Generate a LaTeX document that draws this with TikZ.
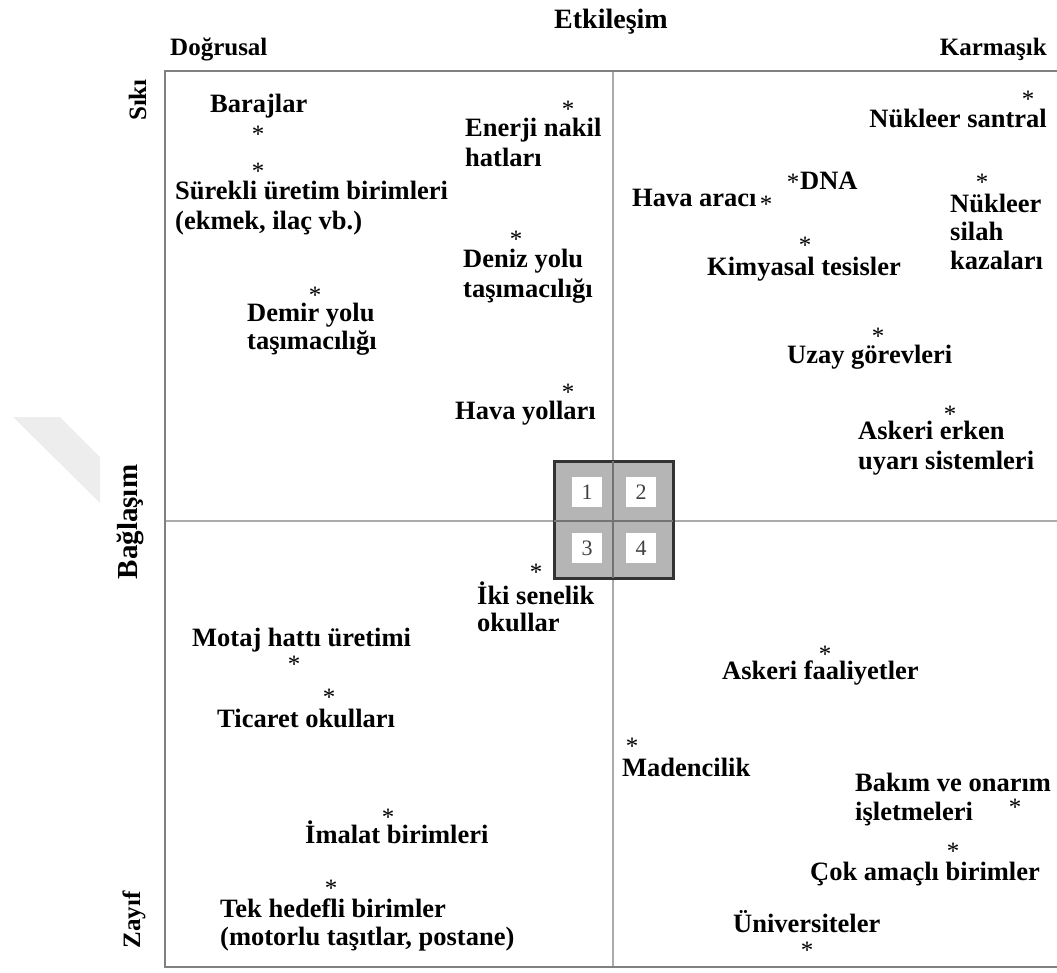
\documentclass[tikz,border=0pt]{standalone}
\usepackage{fontspec}
\setmainfont{Liberation Serif}
\definecolor{framegray}{HTML}{808080}
\definecolor{axisgray}{HTML}{ABABAB}
\definecolor{boxfill}{HTML}{B5B5B5}
\definecolor{boxedge}{HTML}{333333}
\definecolor{markgray}{HTML}{EDEDED}
\begin{document}
\begin{tikzpicture}[x=1pt,y=-1pt,
  lbl/.style={anchor=base west, inner sep=0pt, font=\fontsize{26.5}{30}\selectfont\bfseries},
  lblr/.style={lbl, anchor=base east},
  star/.style={anchor=base, inner sep=0pt, yshift=-12pt, font=\fontsize{25}{30}\selectfont},
  axislbl/.style={inner sep=0pt, font=\fontsize{25}{28}\selectfont\bfseries},
  numbox/.style={fill=white, minimum width=30pt, minimum height=30pt, inner sep=0pt,
                 text=black!75, font=\fontsize{22}{24}\selectfont}]
\useasboundingbox (0,0) rectangle (1057,972);

% faint mark on the left margin
\fill[markgray] (13,417) -- (60,417) -- (100,457) -- (100,503) -- cycle;

% axis titles
\node[axislbl, anchor=base, font=\fontsize{28}{32}\selectfont\bfseries] (etk) at (611,28) {Etkileşim};
\node[axislbl, anchor=base west] (dog) at (170,55) {Doğrusal};
\node[axislbl, anchor=base east] (kar) at (1047,55) {Karmaşık};
\node[axislbl, rotate=90, anchor=base] (siki) at (146,100) {Sıkı};
\node[axislbl, rotate=90, anchor=base, font=\fontsize{29}{32}\selectfont\bfseries] (bag) at (137,522) {Bağlaşım};
\node[axislbl, rotate=90, anchor=base] (zay) at (140,920) {Zayıf};

% frame and quadrant lines
\draw[axisgray, line width=2.5pt] (613,71) -- (613,967);
\draw[axisgray, line width=2.5pt] (165,521) -- (1057,521);
\draw[framegray, line width=2.5pt] (1057,71) -- (165,71) -- (165,967) -- (1057,967);

% central 2x2 key
\filldraw[fill=boxfill, draw=boxedge, line width=3pt] (554,461) rectangle (673,578);
\draw[black!55, line width=2pt] (613,461) -- (613,578);
\draw[black!55, line width=2pt] (554,521) -- (673,521);
\node[numbox] (q1) at (587,492) {1};
\node[numbox] (q2) at (641,492) {2};
\node[numbox] (q3) at (587,548) {3};
\node[numbox] (q4) at (641,548) {4};

% upper left quadrant
\node[lbl] (baraj) at (210,112) {Barajlar};
\node[star] (sbaraj) at (258,130) {*};
\node[star] (ssurek) at (258,167) {*};
\node[lbl] (surek1) at (175,199) {Sürekli üretim birimleri};
\node[lbl] (surek2) at (175,229) {(ekmek, ilaç vb.)};
\node[star] (senerji) at (568,105) {*};
\node[lbl] (enerji1) at (465,136) {Enerji nakil};
\node[lbl] (enerji2) at (465,166) {hatları};
\node[star] (sdeniz) at (516,235) {*};
\node[lbl] (deniz1) at (463,267) {Deniz yolu};
\node[lbl] (deniz2) at (463,297) {taşımacılığı};
\node[star] (sdemir) at (315,291) {*};
\node[lbl] (demir1) at (247,321) {Demir yolu};
\node[lbl] (demir2) at (247,349) {taşımacılığı};
\node[star] (shava) at (568,388) {*};
\node[lbl] (hava) at (455,419) {Hava yolları};

% upper right quadrant
\node[star] (snuk) at (1028,95) {*};
\node[lblr] (nuk) at (1047,127) {Nükleer santral};
\node[star] (sdna) at (793,178) {*};
\node[lbl] (dna) at (800,189) {DNA};
\node[lbl] (arac) at (632,206) {Hava aracı};
\node[star] (sarac) at (766,200) {*};
\node[star] (ssilah) at (982,178) {*};
\node[lbl] (silah1) at (950,212) {Nükleer};
\node[lbl] (silah2) at (950,240) {silah};
\node[lbl] (silah3) at (950,269) {kazaları};
\node[star] (skimya) at (805,241) {*};
\node[lbl] (kimya) at (707,275) {Kimyasal tesisler};
\node[star] (suzay) at (878,332) {*};
\node[lbl] (uzay) at (787,363) {Uzay görevleri};
\node[star] (serken) at (950,410) {*};
\node[lbl] (erken1) at (858,439) {Askeri erken};
\node[lbl] (erken2) at (858,469) {uyarı sistemleri};

% lower left quadrant
\node[star] (siki2) at (536,568) {*};
\node[lbl] (iki1) at (477,604) {İki senelik};
\node[lbl] (iki2) at (477,631) {okullar};
\node[lbl] (motaj) at (192,646) {Motaj hattı üretimi};
\node[star] (smotaj) at (294,660) {*};
\node[star] (sticaret) at (329,693) {*};
\node[lbl] (ticaret) at (217,727) {Ticaret okulları};
\node[star] (simalat) at (388,813) {*};
\node[lbl] (imalat) at (305,843) {İmalat birimleri};
\node[star] (stek) at (331,884) {*};
\node[lbl] (tek1) at (220,917) {Tek hedefli birimler};
\node[lbl] (tek2) at (220,945) {(motorlu taşıtlar, postane)};

% lower right quadrant
\node[star] (sasker) at (825,650) {*};
\node[lbl] (asker) at (722,679) {Askeri faaliyetler};
\node[star] (smaden) at (632,742) {*};
\node[lbl] (maden) at (622,776) {Madencilik};
\node[lbl] (bakim1) at (855,791) {Bakım ve onarım};
\node[lbl] (bakim2) at (855,820) {işletmeleri};
\node[star] (sbakim) at (1015,803) {*};
\node[star] (scok) at (953,847) {*};
\node[lbl] (cok) at (810,880) {Çok amaçlı birimler};
\node[lbl] (univ) at (733,932) {Üniversiteler};
\node[star] (suniv) at (807,946) {*};
\end{tikzpicture}
\end{document}
